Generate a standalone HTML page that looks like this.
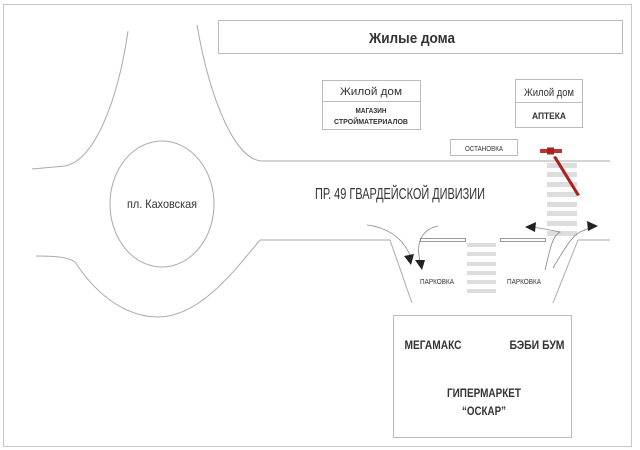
<!DOCTYPE html>
<html><head><meta charset="utf-8"><style>
html,body{margin:0;padding:0;background:#fff}
svg{display:block}
text{font-family:"Liberation Sans",sans-serif;fill:#333}
</style></head><body>
<svg width="640" height="450" viewBox="0 0 640 450" xmlns="http://www.w3.org/2000/svg">
<rect x="3.5" y="4.5" width="628" height="442" fill="none" stroke="#c8c8c8"/>
<g fill="none" stroke="#aaa" stroke-width="1">
<path d="M128,31 C118,100 95,160 65,166 L32,169"/>
<path d="M197,25 C210,100 235,160 262,161 L610,161"/>
<ellipse cx="162" cy="204" rx="52" ry="63"/>
<path d="M36,256 C55,256 68,257 75,262 C100,300 130,317 158,317 C200,317 235,270 260,240 L390,240 L412,303"/>
<path d="M553,303 L578,240 L610,240"/>
</g>
<rect x="218.5" y="20.5" width="404" height="33" fill="none" stroke="#bbb"/>
<text x="412" y="43" font-size="15" font-weight="bold" text-anchor="middle" textLength="86" lengthAdjust="spacingAndGlyphs">Жилые дома</text>
<rect x="322.5" y="80.5" width="98" height="49" fill="none" stroke="#bbb"/>
<line x1="322" y1="101.5" x2="421" y2="101.5" stroke="#bbb"/>
<text x="371" y="95" font-size="11" text-anchor="middle" textLength="62" lengthAdjust="spacingAndGlyphs">Жилой дом</text>
<text x="371" y="113" font-size="7.5" font-weight="bold" text-anchor="middle" textLength="31" lengthAdjust="spacingAndGlyphs">МАГАЗИН</text>
<text x="371" y="124" font-size="7.5" font-weight="bold" text-anchor="middle" textLength="74" lengthAdjust="spacingAndGlyphs">СТРОЙМАТЕРИАЛОВ</text>
<rect x="515.5" y="79.5" width="67" height="48" fill="none" stroke="#bbb"/>
<line x1="515" y1="102.5" x2="583" y2="102.5" stroke="#bbb"/>
<text x="549" y="96" font-size="11" text-anchor="middle" textLength="50" lengthAdjust="spacingAndGlyphs">Жилой дом</text>
<text x="549" y="119" font-size="9" font-weight="bold" text-anchor="middle" textLength="34" lengthAdjust="spacingAndGlyphs">АПТЕКА</text>
<rect x="450.5" y="139.5" width="67" height="16" fill="none" stroke="#bbb"/>
<text x="484" y="151" font-size="7.5" text-anchor="middle" textLength="38" lengthAdjust="spacingAndGlyphs">ОСТАНОВКА</text>
<text x="162" y="208" font-size="12" text-anchor="middle" textLength="70" lengthAdjust="spacingAndGlyphs">пл. Каховская</text>
<text x="400" y="199" font-size="16" text-anchor="middle" textLength="170" lengthAdjust="spacingAndGlyphs">ПР. 49 ГВАРДЕЙСКОЙ ДИВИЗИИ</text>
<g fill="#ddd">
<rect x="547" y="163" width="30" height="5"/><rect x="547" y="172" width="30" height="5"/>
<rect x="547" y="182" width="30" height="5"/><rect x="547" y="192" width="30" height="5"/>
<rect x="547" y="202" width="30" height="5"/><rect x="547" y="211" width="30" height="5"/>
<rect x="547" y="221" width="30" height="5"/><rect x="547" y="231" width="30" height="5"/>
<rect x="467" y="243" width="29" height="4"/><rect x="467" y="252" width="29" height="4"/>
<rect x="467" y="262" width="29" height="4"/><rect x="467" y="271" width="29" height="4"/>
<rect x="467" y="280" width="29" height="4"/><rect x="467" y="289" width="29" height="4"/>
</g>
<rect x="420.5" y="238.5" width="45" height="3" fill="#fff" stroke="#999"/>
<rect x="500.5" y="238.5" width="45" height="3" fill="#fff" stroke="#999"/>
<rect x="540" y="149" width="22" height="4" fill="#b33"/>
<rect x="547" y="147.5" width="7" height="7" fill="#a22"/>
<polygon points="553,157 556,156 580,195 577,196" fill="#a22"/>
<g fill="none" stroke="#888" stroke-width="0.8">
<path d="M367,225 C390,228 405,240 412,260"/>
<path d="M438,226 C420,230 415,245 421,265"/>
<path d="M545,270 C550,250 552,236 560,232 C550,230 540,228 532,227"/>
<path d="M553,268 C565,248 572,236 580,232 C585,230 590,228 592,227"/>
</g>
<g fill="#222">
<polygon points="404,256 414,254 411,265"/>
<polygon points="415,260 425,260 422,270"/>
<polygon points="525,227 536,222 535,232"/>
<polygon points="598,226 587,221 588,231"/>
</g>
<text x="437" y="284" font-size="7.5" text-anchor="middle" textLength="34" lengthAdjust="spacingAndGlyphs">ПАРКОВКА</text>
<text x="524" y="284" font-size="7.5" text-anchor="middle" textLength="34" lengthAdjust="spacingAndGlyphs">ПАРКОВКА</text>
<rect x="393.5" y="315.5" width="178" height="122" fill="none" stroke="#bbb"/>
<g font-weight="bold">
<text x="433" y="349" font-size="12" text-anchor="middle" textLength="57" lengthAdjust="spacingAndGlyphs">МЕГАМАКС</text>
<text x="537" y="349" font-size="12" text-anchor="middle" textLength="55" lengthAdjust="spacingAndGlyphs">БЭБИ БУМ</text>
<text x="484" y="397" font-size="12" text-anchor="middle" textLength="74" lengthAdjust="spacingAndGlyphs">ГИПЕРМАРКЕТ</text>
<text x="484" y="415" font-size="12" text-anchor="middle" textLength="44" lengthAdjust="spacingAndGlyphs">“ОСКАР”</text>
</g>
</svg>
</body></html>
